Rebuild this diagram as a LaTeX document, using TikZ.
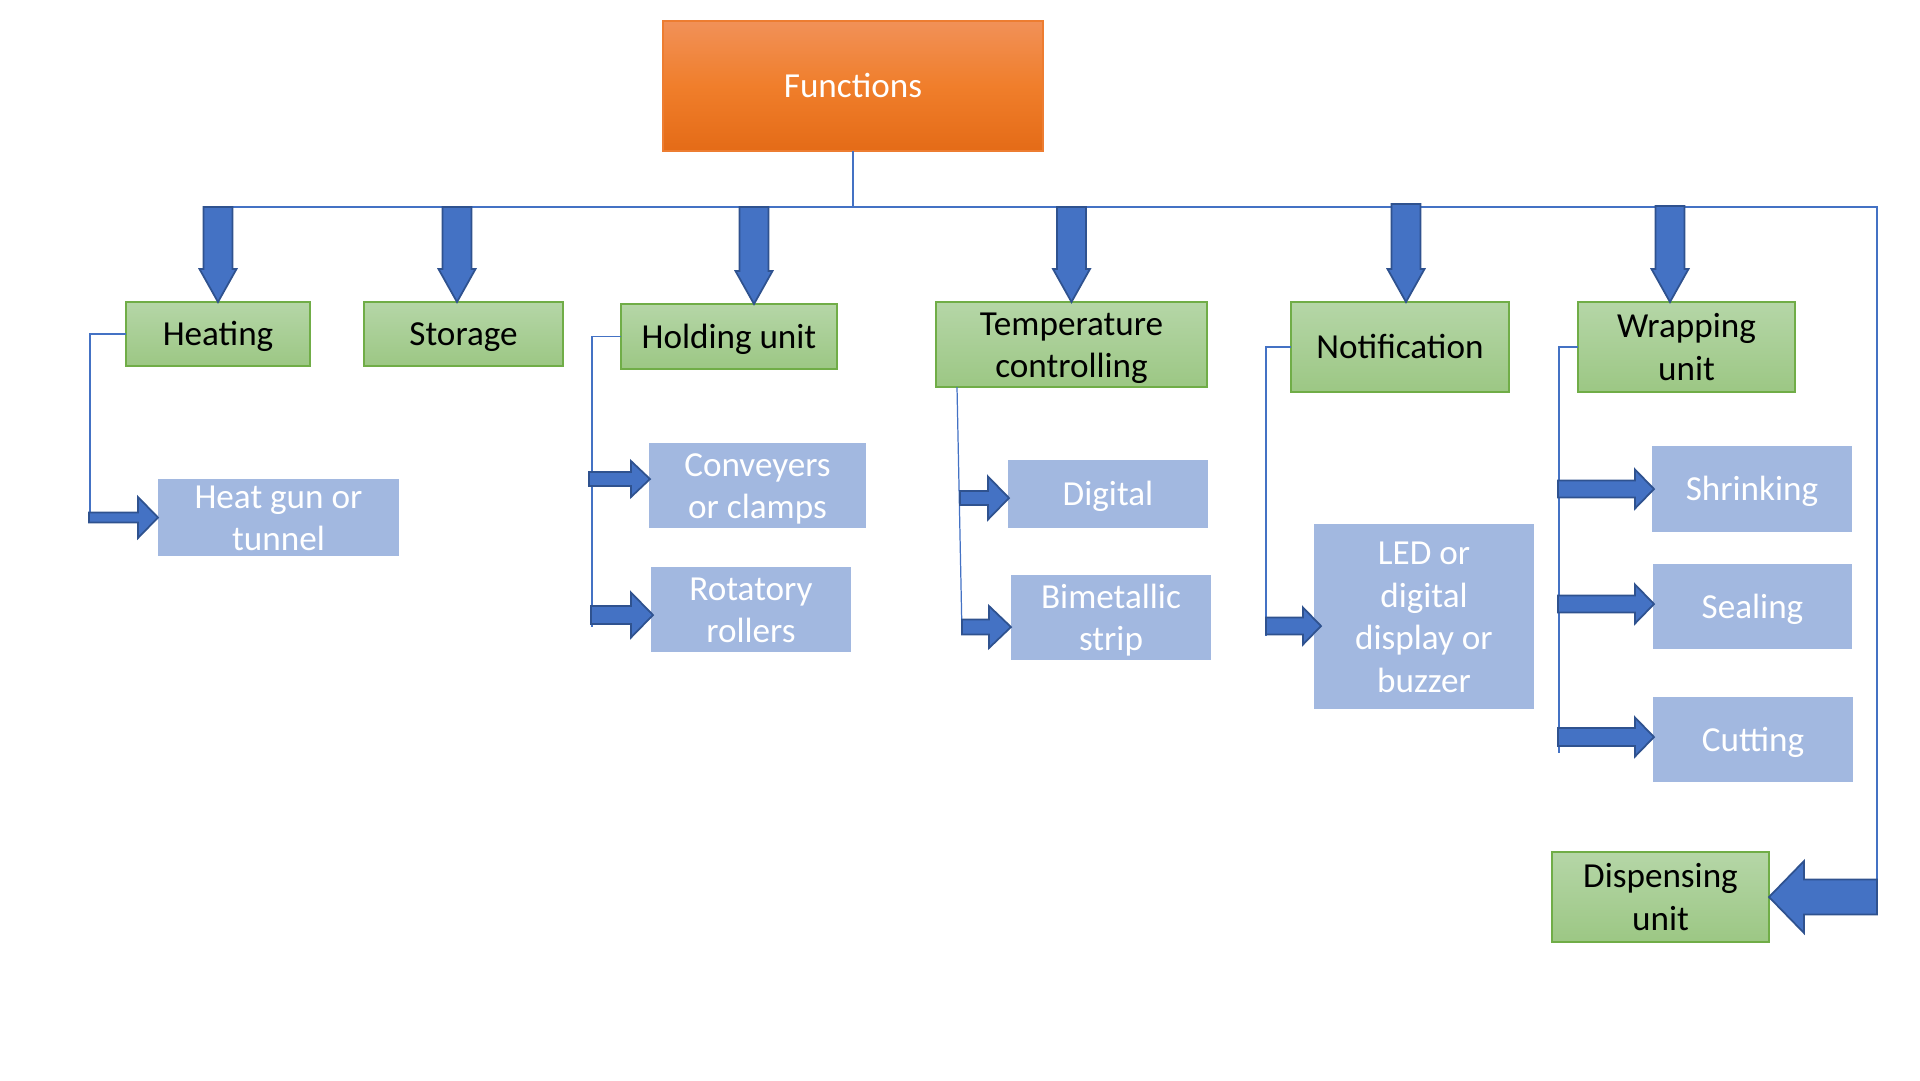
\documentclass[tikz,border=0pt]{standalone}
\usepackage{fontspec}
\setmainfont{Carlito}
\usetikzlibrary{calc}
\definecolor{arrfill}{HTML}{4472C4}
\definecolor{arrdraw}{HTML}{2F528F}
\definecolor{gtop}{HTML}{B5D6A7}
\definecolor{gbot}{HTML}{9CC784}
\definecolor{gline}{HTML}{70AD47}
\definecolor{otop}{HTML}{F19158}
\definecolor{omid}{HTML}{F07E2B}
\definecolor{obot}{HTML}{E46B17}
\definecolor{oline}{HTML}{ED7D31}
\definecolor{lblue}{HTML}{A2B8E0}
\newcommand\st{\rule[-2.6pt]{0pt}{12pt}}
\newcommand\sta{\rule{0pt}{8pt}}
\newcommand\stb{\rule[-1.2pt]{0pt}{1pt}}
\tikzset{
  box/.style={rectangle, inner sep=0pt, outer sep=0pt, align=center, font=\fontsize{10}{12.2}\selectfont},
  gbox/.style={box, top color=gtop, bottom color=gbot, draw=gline, line width=0.5pt, text=black},
  bbox/.style={box, fill=lblue, text=white},
  obox/.style={box, top color=otop, bottom color=obot, middle color=omid, draw=oline, line width=0.4pt, text=white},
  conn/.style={draw=arrfill, line width=0.35pt},
  barrow/.style={fill=arrfill, draw=arrdraw, line width=0.5pt, line join=miter},
}
% #1 tip, #2 shaft length
\newcommand\mkdown[2]{\draw[barrow] #1 -- ++(-18.5,-33) -- ++(4,0) -- ++(0,-#2) -- ++(29,0) -- ++(0,#2) -- ++(4,0) -- cycle;}
% #1 tip, #2 head length, #3 head half height, #4 shaft half height, #5 shaft length
\newcommand\mkright[5]{\draw[barrow] #1 -- ++(-#2,-#3) -- ++(0,#3-#4) -- ++(-#5,0) -- ++(0,2*#4) -- ++(#5,0) -- ++(0,#3-#4) -- cycle;}
\begin{document}
\begin{tikzpicture}[x=0.1mm, y=-0.1mm]
\useasboundingbox (0,0) rectangle (1920,1080);
% nodes
\node[obox, minimum width=38mm, minimum height=13mm] (fn) at (853,86) {\st Functions};
\node[gbox, minimum width=18.4mm, minimum height=6.4mm] (heat) at (218,334) {\st Heating};
\node[gbox, minimum width=19.9mm, minimum height=6.4mm] (stor) at (463.5,334) {\st Storage};
\node[gbox, minimum width=21.6mm, minimum height=6.5mm] (hold) at (729,336.5) {\st Holding unit};
\node[gbox, minimum width=27.1mm, minimum height=8.5mm] (temp) at (1071.5,344.5) {\st Temperature\\\st controlling};
\node[gbox, minimum width=21.8mm, minimum height=9mm] (notif) at (1400,347) {\st Notification};
\node[gbox, minimum width=21.7mm, minimum height=9mm] (wrap) at (1686.5,347) {\st Wrapping\\\st unit};
\node[gbox, minimum width=21.7mm, minimum height=9mm] (disp) at (1660.5,897) {\st Dispensing\\\st unit};
\node[bbox, minimum width=24.1mm, minimum height=7.7mm] (hg) at (278.5,517.5) {\sta Heat gun or\\\stb tunnel};
\node[bbox, minimum width=21.7mm, minimum height=8.5mm] (conv) at (757.5,485.5) {\st Conveyers\\\st or clamps};
\node[bbox, minimum width=20mm, minimum height=8.5mm] (rot) at (751,609.5) {\st Rotatory\\\st rollers};
\node[bbox, minimum width=20mm, minimum height=6.8mm] (dig) at (1108,494) {\st Digital};
\node[bbox, minimum width=20mm, minimum height=8.5mm] (bim) at (1111,617.5) {\st Bimetallic\\\st strip};
\node[bbox, minimum width=22mm, minimum height=18.5mm] (led) at (1424,616.5) {\st LED or\\\st digital\\\st display or\\\st buzzer};
\node[bbox, minimum width=20mm, minimum height=8.6mm] (shr) at (1752,489) {\st Shrinking};
\node[bbox, minimum width=19.9mm, minimum height=8.5mm] (seal) at (1752.5,606.5) {\st Sealing};
\node[bbox, minimum width=20mm, minimum height=8.5mm] (cut) at (1753,739.5) {\st Cutting};
% thin connectors
\coordinate (busL) at (203,207);
\coordinate (busR) at (1877,207);
\draw[conn] (fn.south) -- (fn.south |- busL);
\draw[conn] (busL) -- (busR) -- (busR |- disp.east);
\draw[conn] (heat.west) -| ($(hg.west)+(-68,0)$);
\draw[conn] (hold.west) -| ($(rot.west)+(-59,17.5)$);
\draw[conn] ($(temp.south west)+(21,0)$) -- ($(bim.west)+(-49,16.5)$);
\draw[conn] (notif.west) -| ($(led.west)+(-48,19.5)$);
\draw[conn] (wrap.west) -| ($(cut.west)+(-94,13.5)$);
% down block arrows
\mkdown{(heat.north)}{62}
\mkdown{($(stor.north)+(-6.5,0)$)}{62}
\mkdown{($(hold.north)+(25,0)$)}{64}
\mkdown{(temp.north)}{62}
\mkdown{($(notif.north)+(6,0)$)}{65}
\mkdown{($(wrap.north)+(-16.5,0)$)}{63}
% right block arrows
\mkright{(hg.west)}{20}{20.5}{5}{49}
\mkright{($(conv.west)+(1,-6.5)$)}{19}{18}{7}{42}
\mkright{($(rot.west)+(2,5.5)$)}{22}{22.5}{9}{40}
\mkright{($(dig.west)+(1,4)$)}{21}{21.5}{7}{28}
\mkright{($(bim.west)+(0,9.5)$)}{22}{21}{7.5}{27}
\mkright{($(led.west)+(7,9.5)$)}{18}{18.5}{8.5}{37}
\mkright{($(shr.west)+(2,0)$)}{19}{19.5}{8.5}{77}
\mkright{($(seal.west)+(1,-2.5)$)}{19}{19.5}{8.5}{77}
\mkright{($(cut.west)+(1,-2.5)$)}{19}{19.5}{9}{77}
% left block arrow to dispensing
\draw[barrow] (disp.east) -- ++(35,-36) -- ++(0,18.5) -- ++(73,0) -- ++(0,35) -- ++(-73,0) -- ++(0,18.5) -- cycle;
\end{tikzpicture}
\end{document}
